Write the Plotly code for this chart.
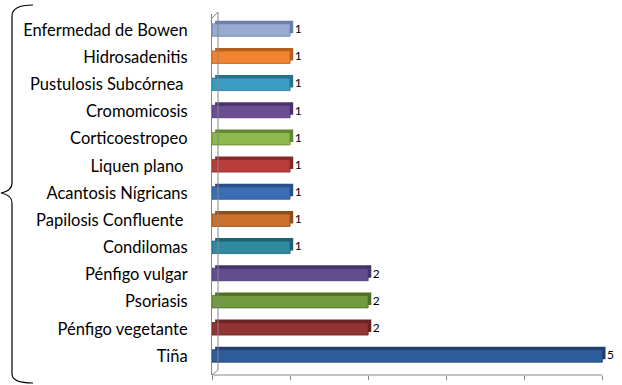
import plotly.graph_objects as go

# Casos por diagnóstico (de abajo hacia arriba)
categorias = [
    "Tiña", "Pénfigo vegetante", "Psoriasis", "Pénfigo vulgar",
    "Condilomas", "Papilosis Confluente ", "Acantosis Nígricans",
    "Liquen plano ", "Corticoestropeo", "Cromomicosis",
    "Pustulosis Subcórnea ", "Hidrosadenitis", "Enfermedad de Bowen",
]
casos = [5, 2, 2, 2, 1, 1, 1, 1, 1, 1, 1, 1, 1]

colores = [
    "#2F5C9A", "#913434", "#729A3E", "#634D8F",
    "#2F8AA0", "#C9702C", "#3C6EB4", "#B93D3B",
    "#8DB84B", "#6C4E95", "#3A9CC0", "#F2842F", "#98AAD2",
]
bordes = [
    "#1F3F6E", "#6A2222", "#4F6E27", "#44336A",
    "#1E6172", "#8F4C1A", "#28508A", "#862826",
    "#63872F", "#4A336D", "#24728F", "#B85E1C", "#6B7DA8",
]

W, H = 622, 385
XMAX = 5.2
L, T, B = 212, 14, 10
pw = round(390 * XMAX / 5)
R = W - L - pw
ph = H - T - B


def px(x):
    return (x - L) / pw


def py(y):
    return (H - B - y) / ph


fig = go.Figure()

# cara posterior (profundidad)
fig.add_trace(go.Bar(
    y=list(range(len(categorias))), x=casos, base=0.04, orientation="h",
    width=0.46, offset=-0.12,
    marker=dict(color=bordes, line=dict(width=0)),
    hoverinfo="skip", showlegend=False,
))
# cara frontal
fig.add_trace(go.Bar(
    y=list(range(len(categorias))), x=casos, orientation="h",
    width=0.46, offset=-0.23,
    marker=dict(color=colores, line=dict(color=bordes, width=0.8)),
    showlegend=False,
))
# etiquetas de valor
fig.add_trace(go.Scatter(
    y=list(range(len(categorias))), x=[v + 0.06 for v in casos],
    mode="text", text=[str(v) for v in casos], textposition="middle right",
    textfont=dict(family="Lato", size=12, color="#000000"),
    hoverinfo="skip", showlegend=False, cliponaxis=False,
))

gris = "#868686"
shapes = []
# eje horizontal hasta el último valor de la escala
shapes.append(dict(type="line", xref="x", yref="paper", x0=0, x1=5, y0=0, y1=0,
                   line=dict(color=gris, width=1)))
# pared del fondo (efecto 3D)
for (x0, y0, x1, y1) in [
    (212, 18, 218, 12), (218, 12, 218, 370), (212, 375, 218, 370),
]:
    shapes.append(dict(type="line", xref="paper", yref="paper",
                       x0=px(x0), y0=py(y0), x1=px(x1), y1=py(y1),
                       line=dict(color=gris, width=1)))

# llave izquierda
def P(x, y):
    return f"{px(x):.5f},{py(y):.5f}"

llave = (
    f"M{P(33,5)} Q{P(12,5)} {P(12,16)} L{P(12,183)} "
    f"Q{P(12,191)} {P(1,193)} Q{P(12,195)} {P(12,203)} "
    f"L{P(12,374)} Q{P(12,383)} {P(33,383)}"
)
shapes.append(dict(type="path", xref="paper", yref="paper", path=llave,
                   line=dict(color="#000000", width=1.2)))

fig.update_layout(
    width=W, height=H,
    margin=dict(l=L, r=R, t=T, b=B),
    paper_bgcolor="white", plot_bgcolor="white",
    barmode="overlay",
    shapes=shapes,
    xaxis=dict(range=[0, XMAX], tickmode="array", tickvals=[0, 1, 2, 3, 4, 5],
               showticklabels=False, showgrid=False,
               zeroline=False, showline=False,
               ticks="outside", ticklen=4, tickcolor=gris),
    yaxis=dict(range=[-0.70, 12.59], tickmode="array",
               tickvals=list(range(len(categorias))), ticktext=categorias,
               showgrid=False, zeroline=False, showline=True, linecolor=gris,
               linewidth=1, ticks="", ticklabelstandoff=20,
               tickfont=dict(family="Lato", size=16.5, color="#000000")),
)

fig.write_html("out.html")
